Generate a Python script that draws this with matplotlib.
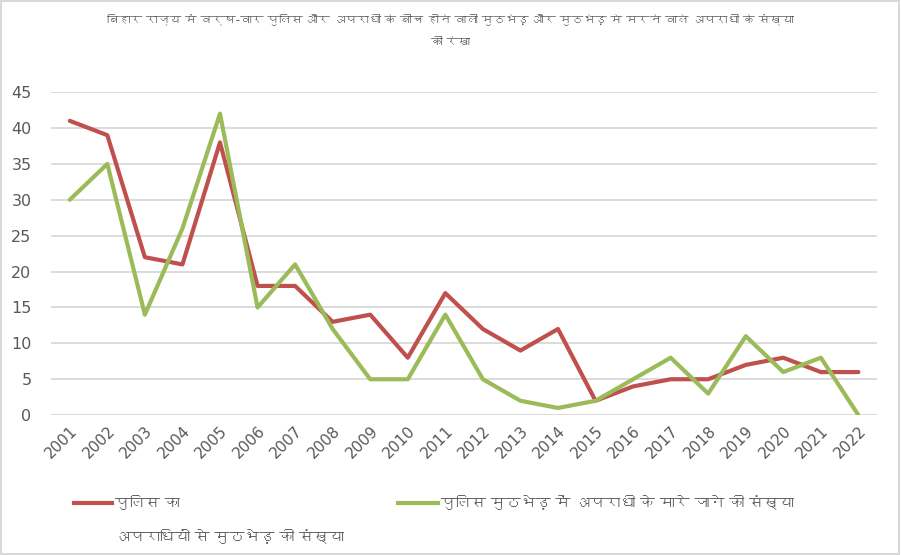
import matplotlib
matplotlib.use('Agg')
import matplotlib.pyplot as plt
from matplotlib import font_manager
from matplotlib.ft2font import FT2Font
from matplotlib.patches import Rectangle
from matplotlib.lines import Line2D

# आंकड़े
saal = [str(y) for y in range(2001, 2023)]
mutbhed = [41, 39, 22, 21, 38, 18, 18, 13, 14, 8, 17, 12, 9, 12, 2, 4, 5, 5, 7, 8, 6, 6]
maare_gaye = [30, 35, 14, 26, 42, 15, 21, 12, 5, 5, 14, 5, 2, 1, 2, 5, 8, 3, 11, 6, 8, 0]
y_ticks = list(range(0, 50, 5))

sheershak = ('बिहार राज्य में वर्ष-वार पुलिस और अपराधी के बीच होने वाली मुठभेड़ और मुठभेड़ मे मरने वाले अपराधी के संख्या\n'
             'की रेखा')
label_lal_1 = 'पुलिस का'
label_lal_2 = 'अपराधियों से मुठभेड़ की संख्या'
label_hara = 'पुलिस मुठभेड़ में अपराधी के मारे जाने की संख्या'

LAL = '#C0504D'
HARA = '#9BBB59'
SLETI = '#595959'


def devanagari_font():
    # कोई भी फॉन्ट जिसमें देवनागरी अक्षर हों
    for f in font_manager.fontManager.ttflist:
        try:
            if 0x0915 in FT2Font(f.fname).get_charmap():
                return f.name
        except Exception:
            continue
    return None


fname = devanagari_font()
fam = ['DejaVu Sans', fname] if fname else ['DejaVu Sans']
plt.rcParams['font.family'] = fam

fig = plt.figure(figsize=(9.01, 5.55), dpi=100)
fig.patches.append(Rectangle((0.001, 0.001), 0.997, 0.997, transform=fig.transFigure,
                             fill=False, edgecolor='#D9D9D9', linewidth=1.5))

ax = fig.add_axes([0.0566, 0.252, 0.917, 0.582])
x = list(range(len(saal)))
ax.plot(x, mutbhed, color=LAL, linewidth=3, solid_capstyle='round', zorder=3)
ax.plot(x, maare_gaye, color=HARA, linewidth=3, solid_capstyle='round', zorder=3)

ax.set_xlim(-0.5, len(saal) - 0.5)
ax.set_ylim(0, 45)
ax.set_yticks(y_ticks)
ax.set_yticklabels([str(v) for v in y_ticks], fontsize=11.5, color=SLETI)
ax.set_xticks(x)
ax.set_xticklabels(saal, rotation=45, ha='right', rotation_mode='anchor', fontsize=11, color=SLETI)
ax.tick_params(axis='y', length=0, pad=14)
ax.tick_params(axis='x', length=0, pad=6)
ax.grid(axis='y', color='#D9D9D9', linewidth=1.3)
ax.set_axisbelow(True)
for s in ax.spines.values():
    s.set_visible(False)

fig.text(0.5, 0.976, sheershak, ha='center', va='top', fontsize=8.5, color=SLETI, linespacing=2.0)

# नीचे का लेजेंड
fig.add_artist(Line2D([0.082, 0.124], [0.094, 0.094], color=LAL, linewidth=3, transform=fig.transFigure))
fig.text(0.128, 0.094, label_lal_1, ha='left', va='center', fontsize=10.8, color=SLETI)
fig.text(0.128, 0.033, label_lal_2, ha='left', va='center', fontsize=10.8, color=SLETI)
fig.add_artist(Line2D([0.442, 0.486], [0.094, 0.094], color=HARA, linewidth=3, transform=fig.transFigure))
fig.text(0.489, 0.094, label_hara, ha='left', va='center', fontsize=10.8, color=SLETI)

fig.savefig('out.png', dpi=100)
